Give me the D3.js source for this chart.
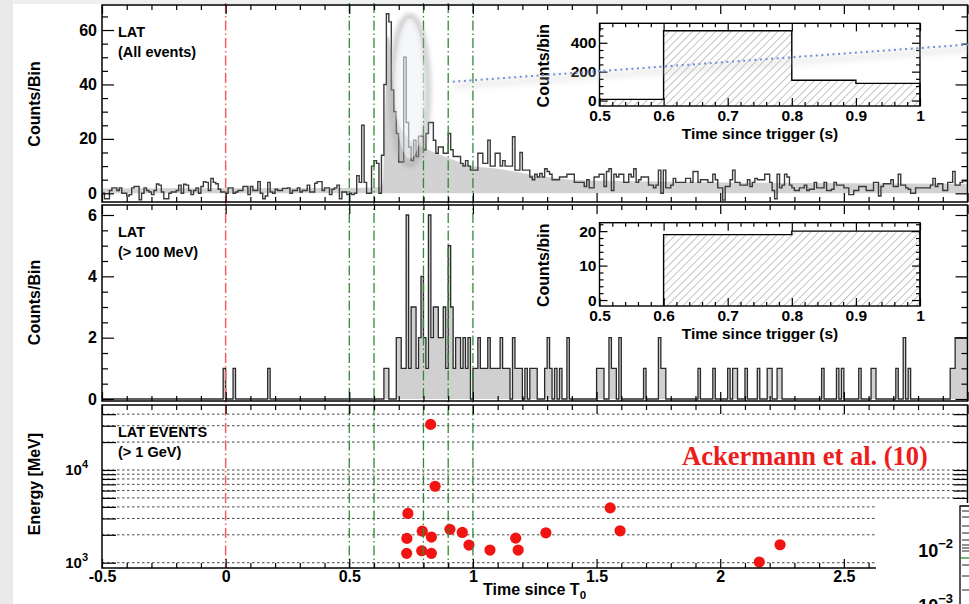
<!DOCTYPE html>
<html>
<head>
<meta charset="utf-8">
<script src="https://cdn.jsdelivr.net/npm/d3@7"></script>
<style>
html, body { margin: 0; padding: 0; background: #fff; }
svg { display: block; }
text { font-family: "Liberation Sans", Arial, Helvetica, sans-serif; font-weight: bold; fill: #000; }
</style>
</head>
<body>
<svg id="fig" width="969" height="604"></svg>
<script>
// ---------------- data ----------------
// LAT light curve, all events, 10 ms bins starting at T0 - 0.5 s
const binStart = -0.5;
const binWidth = 0.01;
const allEventCounts = [
  0, -2, -2, 1, 2, 2, 1, 2, 0, 0,
  -1, -0.5, 2, 2.5, 2.5, -2.4, 0, 2, 1, 0.5,
  -0.5, 1, 3.4, 3, 0.5, -2, -2, 0, 0.5, 0.5,
  1, 3, 0, 3.3, 3, 1, -0.5, 1, 2, 0,
  2.5, 4.3, 4, 1, 5.5, 4, 3.5, 1.5, 0.5, 0.5,
  0, 2, 2, 0, 0.5, 1, 1, 2.5, 2.5, -0.5,
  2.5, 1, 1, 4.3, 0, -2, -1, 4, 0.5, 0,
  1.5, 1, 1, 1.8, 1.8, 2, 0, 1, 1, 2,
  0.5, 1, 1, 3, 0.5, 0.5, 3.7, 4.3, 4.3, 1,
  2, 2, -0.5, 1.5, 2, 3, -2, 0.5, 0.5, -0.5,
  0, -0.5, 0, 6.5, 4, 25, 4, 0, 0, 10,
  12, 11, 0, 14, 40, 66, 63, 38, 30, 22,
  11.5, 11.5, 50, 26, 17, 12, 19.5, 13.5, 21, 21,
  16, 22, 26, 26, 19.5, 14.7, 17, 17, 14.7, 14.7,
  22, 16, 13.5, 13.5, 13.5, 11, 10, 12, 10, 8.5,
  8.5, 8.5, 14.7, 14.7, 11, 11, 19.5, 10, 10, 14.7,
  14.7, 10, 12, 10, 10, 10, 20.8, 8.5, 8.5, 15,
  8.5, 8.5, 8.5, 6, 5, 7, 6, 7.3, 6, 9,
  8, 7, 5, 5, 5, 6, 6, 6, 7, 7,
  7, 4, 4, 4, 4, 2.5, 5, 2, 2, 6,
  6, 7, 7, 2.5, 8, 9, 1, 7, 6, 7,
  7, 4, 4, 7, 6, 9, 4, 5, 6, 6,
  6, 3, 3, 2, 3, 8.5, 0, 8.5, 2, 2,
  3, 5.5, 4, 4, 4, 4, 5.5, 5.5, 4, 8,
  8, 4, 5, 5, 5, 4, 4, 7, 5, 2,
  2, -2.5, 2.5, 2.5, 5, 8.5, 4, 4, 3, 3,
  3, 5, 2.5, 4, 5.5, 5, 5, 5, 7, 7,
  4, 1, -2, 7, 2, 3, 7, 6, 3, 2,
  1, 1, 2, 2, 3, 1, 1.5, 1.5, 4, 2,
  2, 2, 4, 1, 1, 1.5, 4, 3, 3, 3,
  2, 2, -0.5, -0.5, 1, 1, 2.5, 2.5, 2.5, 1,
  1, 1, 4, 4, -1, 2.5, 3.5, 3.5, 3.5, 5,
  2.5, 2.5, 7, 3, 3, 2, 1.5, 0, 0, 2,
  2, 2, 2, 2, 2, 3, 5.5, 2.5, 3.5, 3.5,
  1, 1, 4, 4, 8, 3, 3, 4, 4.5, 4.5
];

// smoothed profile of the all-event light curve (shaded area)
const envelopeTimes  = [-0.5, 0.5, 0.62, 0.635, 0.645, 0.655, 0.665, 0.68, 0.70, 0.73, 0.77, 0.82, 0.90, 1.0, 1.1, 1.2, 1.3, 1.4, 1.6, 2.0, 2.5, 3.0];
const envelopeCounts = [1.8, 1.9, 2.2, 4, 30, 58, 55, 36, 26, 21, 18, 16, 13, 10, 9, 7.5, 6, 5, 4.5, 4, 3.7, 3.5];

// LAT > 100 MeV light curve: non-empty 10 ms bins (bin start, counts)
const hiBinTimes = [
  -0.01, 0.03, 0.17,
  0.64, 0.65, 0.69, 0.70, 0.71, 0.72, 0.73, 0.74, 0.75, 0.76, 0.77, 0.78, 0.79,
  0.80, 0.81, 0.82, 0.83, 0.84, 0.85, 0.86, 0.87, 0.88, 0.89,
  0.90, 0.91, 0.92, 0.93, 0.94, 0.95, 0.96, 0.97, 0.98,
  1.00, 1.01, 1.02, 1.03, 1.04, 1.05, 1.06, 1.07, 1.08, 1.09,
  1.10, 1.11, 1.12, 1.13, 1.14, 1.16, 1.17, 1.18, 1.19,
  1.21, 1.23, 1.24, 1.25, 1.29, 1.30, 1.31, 1.33, 1.35, 1.38,
  1.50, 1.51, 1.52, 1.55, 1.56, 1.57, 1.59, 1.69, 1.75, 1.76, 1.77,
  1.91, 1.97, 2.03, 2.05, 2.06, 2.10, 2.15, 2.19, 2.20, 2.23, 2.24,
  2.41, 2.47, 2.49, 2.56, 2.61, 2.62, 2.71, 2.74, 2.76,
  2.93, 2.94, 2.95, 2.96, 2.97, 2.98, 2.99
];
const hiBinCounts = [
  1, 1, 1,
  1, 1, 2, 2, 1, 1, 6, 1, 3, 3, 1, 2, 4,
  2, 1, 6, 2, 3, 3, 2, 2, 3, 1,
  5, 3, 1, 2, 2, 1, 2, 1, 2,
  1, 1, 2, 1, 1, 1, 2, 1, 1, 1,
  1, 2, 1, 1, 1, 2, 1, 1, 1,
  1, 1, 1, 1, 1, 2, 1, 1, 1, 2,
  1, 1, 1, 2, 1, 1, 2, 1, 2, 1, 1,
  1, 1, 1, 1, 1, 1, 1, 1, 1, 1, 1,
  1, 1, 1, 1, 1, 1, 1, 2, 1,
  1, 1, 2, 2, 2, 2, 2
];

// LAT events above 1 GeV
const eventTimes    = [0.829, 0.847, 0.737, 0.733, 0.732, 0.795, 0.793, 0.832, 0.832, 0.907, 0.957, 0.984, 1.069, 1.173, 1.183, 1.295, 1.555, 1.595, 2.158, 2.242];
const eventEnergies = [31000, 6680, 3400, 1830, 1262, 2190, 1346, 1890, 1262, 2290, 2120, 1550, 1370, 1840, 1370, 2100, 3900, 2210, 1017, 1563];

// zoomed light curves (0.5 - 1 s)
const zoomAllEdges  = [0.5, 0.6, 0.8, 0.9, 1.0];
const zoomAllCounts = [8, 483, 140, 119];
const zoomHiEdges   = [0.6, 0.8, 1.0];
const zoomHiCounts  = [19, 20];

// marker times
const triggerTimes = [0];
const windowEdges  = [0.5, 0.6, 0.8, 0.9, 1.0];

// axis ticks and labels
const xTickValues = [-0.5, 0, 0.5, 1, 1.5, 2, 2.5, 3];
const xTickLabels = ["-0.5", "0", "0.5", "1", "1.5", "2", "2.5", ""];
const allTickValues = [0, 20, 40, 60];
const hiTickValues = [0, 2, 4, 6];
const energyTicks = [1000, 2000, 3000, 4000, 5000, 6000, 7000, 8000, 9000, 10000, 20000, 30000, 40000];
const energyDecades = [1000, 10000];
const insetXTicks = [0.5, 0.6, 0.7, 0.8, 0.9, 1.0];
const insetXLabels = ["0.5", "0.6", "0.7", "0.8", "0.9", "1"];
const insetAllTicks = [0, 200, 400];
const insetHiTicks = [0, 10, 20];

// ---------------- drawing ----------------
const svg = d3.select("#fig");
const defs = svg.append("defs");

// page background
svg.append("rect").attr("width", 969).attr("height", 604).attr("fill", "#fff");
svg.append("rect").attr("x", 0).attr("y", 0).attr("width", 969).attr("height", 4).attr("fill", "#efefef");
svg.append("rect").attr("x", 0).attr("y", 0).attr("width", 13).attr("height", 604).attr("fill", "#e9e9e9");

const X0 = 102, X1 = 967.5;
const P = [ {top: 5, bottom: 202}, {top: 205, bottom: 401}, {top: 405, bottom: 568} ];

const x  = d3.scaleLinear([-0.5, 3.0], [X0, X1]);
const y1 = d3.scaleLinear([-3.2, 69.2], [P[0].bottom, P[0].top]);
const y2 = d3.scaleLinear([-0.065, 6.326], [P[1].bottom, P[1].top]);
const y3 = d3.scaleLog([877, 50200], [P[2].bottom, P[2].top]);

P.forEach((p, i) => {
  defs.append("clipPath").attr("id", "clip" + i)
    .append("rect").attr("x", X0).attr("y", p.top).attr("width", X1 - X0).attr("height", p.bottom - p.top);
});

// hatch fill for the zoomed light curves
const hatch = defs.append("pattern").attr("id", "hatch")
  .attr("patternUnits", "userSpaceOnUse").attr("width", 5.5).attr("height", 5.5)
  .attr("patternTransform", "rotate(45)");
hatch.append("line").attr("x1", 0).attr("y1", 0).attr("x2", 0).attr("y2", 5.5)
  .attr("stroke", "#8a8a8a").attr("stroke-width", 1);

defs.append("filter").attr("id", "soft").attr("x", "-50%").attr("y", "-50%").attr("width", "200%").attr("height", "200%")
  .append("feGaussianBlur").attr("stdDeviation", 2.2);
defs.append("filter").attr("id", "haze").attr("x", "-20%").attr("y", "-200%").attr("width", "140%").attr("height", "500%")
  .append("feGaussianBlur").attr("stdDeviation", 3);

// --- panel 1: all events ---
const g1 = svg.append("g").attr("clip-path", "url(#clip0)");
const envPts = envelopeTimes.map((t, i) => [t, envelopeCounts[i]]);
g1.append("path")
  .attr("d", d3.area().x(d => x(d[0])).y0(y1(0)).y1(d => y1(d[1])).curve(d3.curveMonotoneX)(envPts))
  .attr("fill", "#d2d2d2");
const allPts = allEventCounts.map((v, i) => [binStart + i * binWidth, v]);
allPts.push([3.0, allEventCounts[allEventCounts.length - 1]]);
g1.append("path")
  .attr("d", d3.line().x(d => x(d[0])).y(d => y1(d[1])).curve(d3.curveStepAfter)(allPts))
  .attr("fill", "none").attr("stroke", "#3a3a3a").attr("stroke-width", 1.4);

// --- panel 2: > 100 MeV ---
const g2 = svg.append("g").attr("clip-path", "url(#clip1)");
const hiCounts = allEventCounts.map(() => 0);
hiBinTimes.forEach((t, i) => { hiCounts[Math.round((t - binStart) / binWidth)] = hiBinCounts[i]; });
const hiPts = hiCounts.map((v, i) => [binStart + i * binWidth, v]);
hiPts.push([3.0, hiCounts[hiCounts.length - 1]]);
g2.append("path")
  .attr("d", d3.area().x(d => x(d[0])).y0(y2(0)).y1(d => y2(d[1])).curve(d3.curveStepAfter)(hiPts))
  .attr("fill", "#d0d0d0");
g2.append("path")
  .attr("d", d3.line().x(d => x(d[0])).y(d => y2(d[1])).curve(d3.curveStepAfter)(hiPts))
  .attr("fill", "none").attr("stroke", "#2a2a2a").attr("stroke-width", 1.3);

// --- panel 3: energies of > 1 GeV events ---
const g3 = svg.append("g").attr("clip-path", "url(#clip2)");
g3.selectAll("line.grid").data(energyTicks).join("line")
  .attr("x1", X0).attr("x2", X1).attr("y1", d => y3(d)).attr("y2", d => y3(d))
  .attr("stroke", "#333").attr("stroke-width", 0.9).attr("stroke-dasharray", "2.5,2.5");

// marker lines through all panels
svg.selectAll("line.trig").data(triggerTimes).join("line")
  .attr("x1", d => x(d)).attr("x2", d => x(d)).attr("y1", 3).attr("y2", P[2].bottom)
  .attr("stroke", "#ec6262").attr("stroke-width", 1.5).attr("stroke-dasharray", "10,3,1.5,3");
svg.selectAll("line.win").data(windowEdges).join("line")
  .attr("x1", d => x(d)).attr("x2", d => x(d)).attr("y1", 3).attr("y2", P[2].bottom)
  .attr("stroke", "#2f8a2f").attr("stroke-width", 1.3).attr("stroke-dasharray", "10,3,1.5,3");

g3.selectAll("circle").data(eventTimes).join("circle")
  .attr("cx", d => x(d)).attr("cy", (d, i) => y3(eventEnergies[i])).attr("r", 5.6)
  .attr("fill", "#f21313");

// --- axes (inward ticks on all four sides) ---
function inward(gen, scale, pos, values, len, labels, pad, size) {
  const ax = gen(scale).tickValues(values).tickSize(-len).tickPadding(pad || 4)
    .tickFormat(labels ? (d, i) => labels[i] : () => "");
  const g = svg.append("g").attr("transform", pos).call(ax);
  g.select(".domain").remove();
  g.selectAll("line").attr("stroke", "#000").attr("stroke-width", 1.2);
  g.selectAll("text").attr("font-size", size || 16).attr("font-family", null).attr("fill", "#000");
  return g;
}
const xMinor = x.ticks(35).filter(t => !xTickValues.some(v => Math.abs(v - t) < 1e-6));
P.forEach((p, i) => {
  inward(d3.axisTop, x, `translate(0,${p.top})`, xTickValues, 9);
  inward(d3.axisTop, x, `translate(0,${p.top})`, xMinor, 5);
  if (i < 2) {
    inward(d3.axisBottom, x, `translate(0,${p.bottom})`, xTickValues, 9);
    inward(d3.axisBottom, x, `translate(0,${p.bottom})`, xMinor, 5);
  }
});
inward(d3.axisBottom, x, `translate(0,${P[2].bottom})`, xTickValues, 9, xTickLabels, 3);
inward(d3.axisBottom, x, `translate(0,${P[2].bottom})`, xMinor, 5);

const y1Minor = d3.range(5, 70, 5).filter(v => v % 20 !== 0);
inward(d3.axisLeft, y1, `translate(${X0},0)`, allTickValues, 12, allTickValues.map(String), 5);
inward(d3.axisLeft, y1, `translate(${X0},0)`, y1Minor, 6);
inward(d3.axisRight, y1, `translate(${X1},0)`, allTickValues, 12);
inward(d3.axisRight, y1, `translate(${X1},0)`, y1Minor, 6);

const y2Minor = y2.ticks(12).filter(v => v % 2 !== 0 && v > 0);
inward(d3.axisLeft, y2, `translate(${X0},0)`, hiTickValues, 12, hiTickValues.map(String), 5);
inward(d3.axisLeft, y2, `translate(${X0},0)`, y2Minor, 6);
inward(d3.axisRight, y2, `translate(${X1},0)`, hiTickValues, 12);
inward(d3.axisRight, y2, `translate(${X1},0)`, y2Minor, 6);

inward(d3.axisLeft, y3, `translate(${X0},0)`, energyTicks, 14);
inward(d3.axisRight, y3, `translate(${X1},0)`, energyTicks, 14);
energyDecades.forEach(e => {
  const t = svg.append("text").attr("x", 88).attr("y", y3(e) + 5).attr("text-anchor", "end").attr("font-size", 15);
  t.append("tspan").text("10");
  t.append("tspan").attr("font-size", 11).attr("dy", -7).text(String(Math.log10(e)));
});

// panel frames
P.forEach(p => {
  svg.append("rect").attr("x", X0).attr("y", p.top).attr("width", X1 - X0).attr("height", p.bottom - p.top)
    .attr("fill", "none").attr("stroke", "#000").attr("stroke-width", 1.5);
});

// highlight around the main peak
const ex = x(0.745), ey = y1(38.5);
svg.append("ellipse").attr("cx", ex).attr("cy", ey + 2).attr("rx", 18).attr("ry", 74)
  .attr("fill", "none").attr("stroke", "#a8a8a8").attr("stroke-width", 7).attr("opacity", 0.5).attr("filter", "url(#soft)");
svg.append("ellipse").attr("cx", ex).attr("cy", ey).attr("rx", 15).attr("ry", 70)
  .attr("fill", "#eef0f7").attr("opacity", 0.55);

// --- zoom insets ---
function inset(top, bottom, yDomain, edges, counts, yTicks, yMinorStep) {
  const ix = d3.scaleLinear([0.5, 1.0], [599.5, 920]);
  const iy = d3.scaleLinear(yDomain, [bottom, top]);
  svg.append("rect").attr("x", 599.5).attr("y", top).attr("width", 920 - 599.5).attr("height", bottom - top).attr("fill", "#fff");
  const pts = counts.map((c, i) => [edges[i], c]);
  pts.push([edges[edges.length - 1], counts[counts.length - 1]]);
  svg.append("path")
    .attr("d", d3.area().x(d => ix(d[0])).y0(bottom).y1(d => iy(d[1])).curve(d3.curveStepAfter)(pts))
    .attr("fill", "url(#hatch)");
  const outline = [[edges[0], yDomain[0]]].concat(pts).concat([[edges[edges.length - 1], yDomain[0]]]);
  svg.append("path")
    .attr("d", d3.line().x(d => ix(d[0])).y(d => iy(d[1])).curve(d3.curveStepAfter)(outline))
    .attr("fill", "none").attr("stroke", "#000").attr("stroke-width", 1.4);
  const ixMinor = ix.ticks(25).filter(t => !insetXTicks.some(v => Math.abs(v - t) < 1e-6));
  const iyMinor = d3.range(yMinorStep, yDomain[1], yMinorStep).filter(v => !yTicks.includes(v));
  inward(d3.axisBottom, ix, `translate(0,${bottom})`, insetXTicks, 8, insetXLabels, 4, 15.5);
  inward(d3.axisBottom, ix, `translate(0,${bottom})`, ixMinor, 4);
  inward(d3.axisTop, ix, `translate(0,${top})`, insetXTicks, 8);
  inward(d3.axisTop, ix, `translate(0,${top})`, ixMinor, 4);
  inward(d3.axisLeft, iy, `translate(599.5,0)`, yTicks, 8, yTicks.map(String), 3, 15.5);
  inward(d3.axisLeft, iy, `translate(599.5,0)`, iyMinor, 4);
  inward(d3.axisRight, iy, `translate(920,0)`, yTicks, 8);
  inward(d3.axisRight, iy, `translate(920,0)`, iyMinor, 4);
  svg.append("rect").attr("x", 599.5).attr("y", top).attr("width", 920 - 599.5).attr("height", bottom - top)
    .attr("fill", "none").attr("stroke", "#000").attr("stroke-width", 1.4);
  svg.append("text").attr("x", 760).attr("y", bottom + 33).attr("text-anchor", "middle").attr("font-size", 15.5)
    .text("Time since trigger (s)");
  svg.append("text").attr("transform", `translate(549,${(top + bottom) / 2 + 1}) rotate(-90)`)
    .attr("text-anchor", "middle").attr("font-size", 16).text("Counts/bin");
}
inset(23.3, 106, [-38, 535], zoomAllEdges, zoomAllCounts, insetAllTicks, 50);
inset(222.7, 306, [-1.73, 22.45], zoomHiEdges, zoomHiCounts, insetHiTicks, 2);

// callout from the peak to the zoom
const lead = d3.line()([[452.7, 81.7], [969, 44.5]]);
svg.append("path").attr("d", d3.line()([[452.7, 86], [969, 49]]))
  .attr("stroke", "#c8c8c8").attr("stroke-width", 6).attr("opacity", 0.35).attr("fill", "none").attr("filter", "url(#haze)");
svg.append("path").attr("d", lead)
  .attr("stroke", "#6f8fda").attr("stroke-width", 2).attr("stroke-dasharray", "2,3.6").attr("fill", "none");

// --- labels ---
function label(xp, yp, txt, size) {
  return svg.append("text").attr("x", xp).attr("y", yp).attr("font-size", size).text(txt);
}
label(118, 37.3, "LAT", 14.5);
label(118, 56.5, "(All events)", 14.5);
label(118, 237.3, "LAT", 14.5);
label(118, 256.5, "(> 100 MeV)", 14.5);
label(118, 437.3, "LAT EVENTS", 14.5);
label(118, 456.5, "(> 1 GeV)", 14.5);

[["Counts/Bin", 104], ["Counts/Bin", 302.5], ["Energy [MeV]", 484]].forEach(([t, cy]) => {
  svg.append("text").attr("transform", `translate(40,${cy}) rotate(-90)`)
    .attr("text-anchor", "middle").attr("font-size", 16).text(t);
});

const xt = svg.append("text").attr("x", 483).attr("y", 595).attr("font-size", 16);
xt.append("tspan").text("Time since T");
xt.append("tspan").attr("font-size", 11.5).attr("dy", 4).text("0");

svg.append("text").attr("x", 805).attr("y", 465).attr("text-anchor", "middle")
  .attr("font-size", 26.5)
  .style("font-family", "'Liberation Serif', 'Times New Roman', serif")
  .style("fill", "#ee1c1c").text("Ackermann et al. (10)");

// --- neighbouring panel peeking in at the lower right ---
svg.append("rect").attr("x", 876).attr("y", 503).attr("width", 93).attr("height", 101).attr("fill", "#fff");
svg.append("path").attr("d", d3.line()([[969, 506], [960, 506], [960, 604]]))
  .attr("fill", "none").attr("stroke", "#000").attr("stroke-width", 1.3);
[511, 517, 526, 533, 540, 545, 548, 551, 565, 576, 590].forEach(yy => {
  svg.append("line").attr("x1", 962).attr("x2", 969).attr("y1", yy).attr("y2", yy)
    .attr("stroke", "#222").attr("stroke-width", 1);
});
svg.append("line").attr("x1", 961).attr("x2", 969).attr("y1", 558).attr("y2", 558).attr("stroke", "#3a9a3a").attr("stroke-width", 1.4);
[["-2", 557], ["-3", 612]].forEach(([p, yy]) => {
  const t = svg.append("text").attr("x", 953).attr("y", yy).attr("text-anchor", "end").attr("font-size", 18);
  t.append("tspan").text("10");
  t.append("tspan").attr("font-size", 13).attr("dy", -9).text("\u2212" + p.slice(1));
});
</script>
</body>
</html>
